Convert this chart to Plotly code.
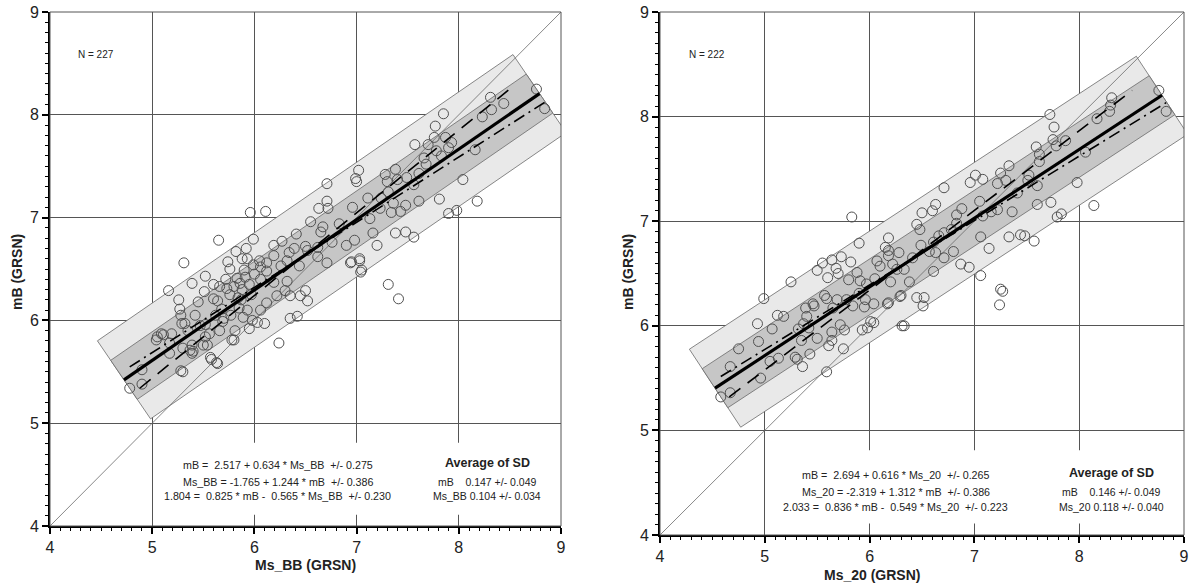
import numpy as np
import plotly.graph_objects as go

# ---------------- data ----------------
# Left panel: Ms_BB vs mB
ms_bb = [4.78, 4.90, 4.90, 5.04, 5.05, 5.09, 5.11, 5.16, 5.17, 5.17, 5.19, 5.26, 5.27, 5.28, 5.28, 5.29,
         5.30, 5.30, 5.31, 5.32, 5.37, 5.39, 5.39, 5.40, 5.39, 5.50, 5.52, 5.51, 5.52, 5.52, 5.54, 5.56,
         5.57, 5.58, 5.60, 5.62, 5.63, 5.64, 5.64, 5.65, 5.66, 5.68, 5.69, 5.70, 5.73, 5.74, 5.76, 5.77,
         5.78, 5.80, 5.81, 5.82, 5.83, 5.86, 5.88, 5.90, 5.92, 5.88, 5.85, 5.87, 5.93, 5.93, 5.96, 5.97,
         5.99, 5.99, 6.03, 6.05, 6.06, 6.10, 6.11, 6.12, 6.12, 5.76, 5.80, 5.84, 5.95, 5.91, 6.00, 5.72,
         5.66, 5.60, 5.45, 5.42, 5.47, 5.35,
         6.19, 6.27, 6.41, 6.55, 6.67, 6.83, 6.96, 6.65, 6.76, 6.90, 6.98, 6.94, 7.03, 7.04, 6.62, 6.52,
         6.39, 6.34, 6.19, 6.06, 6.71, 6.62, 6.50, 6.44, 6.32, 6.26, 6.12, 6.19, 6.32, 6.30, 6.50, 6.45,
         6.52, 6.35, 6.22, 6.06, 5.89, 5.98, 6.35, 6.42, 5.95, 6.24, 6.71, 6.71, 6.63, 6.72, 7.02, 6.99,
         8.76, 8.31, 8.44, 8.32, 8.84, 8.23, 7.85, 7.77, 7.76, 7.87, 7.93, 7.70, 7.78, 7.57, 7.90, 7.83,
         8.16, 7.66, 7.68, 7.00, 7.28, 7.38, 7.30, 7.40, 7.49, 7.61, 7.56, 7.31, 7.24, 7.11, 7.23, 7.36,
         7.48, 7.43, 7.34, 7.13, 7.61, 7.81, 8.04, 8.18, 7.90, 7.98, 7.16, 7.38, 7.48, 7.56, 7.20, 7.03,
         6.95, 7.05, 7.31, 7.41]
mb_bb = [5.34, 5.38, 5.52, 5.81, 5.84, 5.87, 5.86, 6.29, 5.78, 5.68, 5.87, 6.20, 6.11, 6.05, 5.51, 5.97,
         5.73, 5.50, 6.56, 5.97, 5.71, 5.76, 5.68, 5.70, 6.36, 5.76, 6.43, 6.28, 5.96, 5.84, 5.76, 5.87,
         5.64, 5.62, 6.21, 6.05, 5.59, 6.19, 5.58, 6.78, 5.90, 6.11, 5.99, 6.02, 6.31, 6.57, 6.50, 6.05,
         5.81, 5.81, 5.90, 6.67, 6.41, 6.36, 6.60, 6.49, 6.70, 6.30, 6.12, 6.20, 6.10, 6.60, 7.05, 6.25,
         6.79, 6.54, 5.98, 6.58, 6.40, 5.97, 7.06, 6.56, 6.17, 6.25, 6.33, 6.22, 6.35, 6.42, 6.45, 6.40,
         6.33, 6.35, 6.18, 6.05, 5.95, 5.90,
         6.73, 6.77, 6.84, 6.96, 6.91, 6.94, 7.10, 6.86, 6.76, 6.73, 6.78, 6.56, 6.58, 6.47, 6.71, 6.68,
         6.70, 6.66, 6.63, 6.52, 6.56, 6.62, 6.72, 6.53, 6.58, 6.53, 6.48, 6.37, 6.38, 6.29, 6.29, 6.24,
         6.19, 6.24, 6.24, 6.10, 6.03, 6.00, 6.02, 6.04, 5.92, 5.78, 7.33, 7.16, 7.09, 7.09, 7.46, 7.38,
         8.25, 8.17, 8.11, 8.05, 8.06, 7.98, 8.01, 7.89, 7.78, 7.78, 7.73, 7.71, 7.65, 7.71, 7.68, 7.60,
         7.66, 7.58, 7.52, 7.35, 7.42, 7.47, 7.35, 7.37, 7.39, 7.43, 7.32, 7.25, 7.19, 7.19, 7.09, 7.14,
         7.12, 7.06, 7.05, 6.99, 7.16, 7.18, 7.37, 7.16, 7.04, 7.07, 6.85, 6.85, 6.86, 6.81, 6.73, 6.60,
         6.57, 6.49, 6.35, 6.21]

# Right panel: Ms_20 vs mB
ms_20 = [4.58, 4.67, 4.67, 4.75, 4.93, 4.94, 4.96, 4.99, 5.05, 5.07, 5.12, 5.13, 5.18, 5.25, 5.29, 5.31,
         5.32, 5.36, 5.39, 5.47, 5.40, 5.50, 5.50, 5.42, 5.59, 5.59, 5.64, 5.64, 5.69, 5.65, 5.70, 5.72,
         5.73, 5.75, 5.76, 5.78, 5.82, 5.83, 5.84, 5.88, 5.90, 5.80, 5.91, 5.96, 5.93, 5.98, 5.97, 5.55,
         5.60, 5.68, 5.35, 5.43, 5.61, 5.64, 5.46, 5.57, 6.04, 6.33, 6.51, 6.45, 6.29, 6.18, 5.37,
         7.01, 6.96, 7.08, 6.71, 6.63, 6.60, 6.50, 6.83, 6.88, 7.05, 6.18, 6.45, 6.48, 6.66, 6.71, 6.61,
         6.78, 6.83, 6.57, 6.63, 6.71, 6.80, 6.15, 6.18, 6.18, 6.28, 6.07, 6.10, 6.22, 6.26, 6.33, 6.41,
         6.49, 6.61, 6.87, 6.95, 7.06, 6.52, 6.30, 6.31, 6.01, 5.95, 6.04, 6.17, 5.90, 6.38, 6.20, 6.05,
         8.76, 8.31, 8.30, 8.29, 8.83, 8.17, 7.72, 7.76, 7.75, 7.87, 7.59, 7.62, 7.78, 7.62, 8.06, 7.33,
         7.25, 7.52, 7.51, 7.22, 7.30, 7.60, 7.41, 7.16, 7.22, 7.36, 7.08, 7.60, 7.73, 7.98, 8.14, 7.79,
         7.83, 7.06, 7.33, 7.44, 7.48, 7.57, 7.14, 7.25, 7.24, 7.27]
mb_20 = [5.32, 5.36, 5.61, 5.78, 6.02, 5.85, 5.50, 6.26, 5.66, 5.97, 6.10, 5.69, 6.09, 6.42, 5.70, 5.68,
         5.97, 5.61, 6.17, 6.19, 6.09, 5.88, 6.53, 5.98, 6.26, 5.56, 6.63, 5.94, 6.25, 6.17, 6.50, 6.01,
         6.66, 5.78, 5.96, 6.25, 6.61, 7.04, 6.19, 6.51, 6.79, 6.44, 6.43, 6.25, 5.96, 5.98, 6.40, 6.60,
         6.46, 6.55, 5.86, 5.73, 5.81, 5.86, 6.21, 6.29, 6.03, 6.00, 6.19, 6.27, 6.28, 6.22, 6.02,
         7.44, 7.37, 7.40, 7.32, 7.16, 7.10, 7.08, 7.06, 7.12, 7.19, 6.84, 6.97, 6.92, 6.86, 6.89, 6.80,
         6.92, 6.98, 6.71, 6.70, 6.65, 6.71, 6.75, 6.72, 6.67, 6.70, 6.62, 6.57, 6.59, 6.54, 6.54, 6.65,
         6.77, 6.52, 6.59, 6.56, 6.48, 6.27, 6.29, 6.00, 6.04, 6.18, 6.21, 6.21, 6.31, 6.42, 6.42, 6.45,
         8.25, 8.18, 8.11, 8.05, 8.05, 7.98, 8.02, 7.90, 7.78, 7.77, 7.71, 7.64, 7.72, 7.57, 7.66, 7.53,
         7.46, 7.44, 7.39, 7.36, 7.39, 7.34, 7.27, 7.09, 7.11, 7.09, 7.05, 7.16, 7.18, 7.37, 7.15, 7.04,
         7.07, 6.85, 6.85, 6.87, 6.86, 6.81, 6.74, 6.35, 6.20, 6.33]

# regression results: (intercept, slope, sd) for mB on Ms; Ms on mB; orthogonal (C, A, B, sd)
left_fit = dict(name="Ms_BB", n=227, ols=(2.517, 0.634, 0.275), inv=(-1.765, 1.244, 0.386),
                orth=(1.804, 0.825, 0.565, 0.230), sd_mb=(0.147, 0.049), sd_ms=(0.104, 0.034))
right_fit = dict(name="Ms_20", n=222, ols=(2.694, 0.616, 0.265), inv=(-2.319, 1.312, 0.386),
                 orth=(2.033, 0.836, 0.549, 0.223), sd_mb=(0.146, 0.049), sd_ms=(0.118, 0.040))

axis_range = [4, 9]
tick_vals = [4, 5, 6, 7, 8, 9]

FONT = "Liberation Sans, Arial, sans-serif"

fig = go.Figure()

panels = [
    dict(xs=ms_bb, ys=mb_bb, fit=left_fit, xa="x", ya="y",
         dom_x=[50 / 1192, 561 / 1192], dom_y=[1 - 526 / 585, 1 - 12 / 585],
         eq_x=6.23, eq_y=[4.59, 4.43, 4.29], av_x=8.28, av_y=[4.61, 4.43, 4.29],
         xtitle_pos=(305 / 1192, 1 - 565 / 585), ytitle_pos=(17 / 1192, 1 - 272 / 585)),
    dict(xs=ms_20, ys=mb_20, fit=right_fit, xa="x2", ya="y2",
         dom_x=[660 / 1192, 1184 / 1192], dom_y=[1 - 535 / 585, 1 - 12 / 585],
         eq_x=6.25, eq_y=[4.57, 4.41, 4.27], av_x=8.31, av_y=[4.59, 4.41, 4.27],
         xtitle_pos=(872 / 1192, 1 - 575 / 585), ytitle_pos=(628 / 1192, 1 - 272 / 585)),
]

shapes = []
annotations = []

for i, p in enumerate(panels):
    xs = np.array(p["xs"])
    ys = np.array(p["ys"])
    f = p["fit"]
    C, A, B, s = f["orth"]
    nrm = np.hypot(A, B)
    u = np.array([A, B]) / nrm          # along line (Ms, mB)
    nv = np.array([-B, A]) / nrm        # normal
    P0 = C / nrm * nv
    t = xs * u[0] + ys * u[1]
    tmin, tmax = t.min(), t.max()
    Pa = P0 + tmin * u
    Pb = P0 + tmax * u

    def rect(k):
        pts = [Pa + k * s * nv, Pb + k * s * nv, Pb - k * s * nv, Pa - k * s * nv, Pa + k * s * nv]
        return [q[0] for q in pts], [q[1] for q in pts]

    bx, by = rect(2)
    fig.add_trace(go.Scatter(x=bx, y=by, fill="toself", fillcolor="#e9e9e9", mode="lines",
                             line=dict(color="#6a6a6a", width=0.8), xaxis=p["xa"], yaxis=p["ya"],
                             hoverinfo="skip", showlegend=False))
    bx, by = rect(1)
    fig.add_trace(go.Scatter(x=bx, y=by, fill="toself", fillcolor="#c6c6c6", mode="lines",
                             line=dict(color="#6a6a6a", width=0.8), xaxis=p["xa"], yaxis=p["ya"],
                             hoverinfo="skip", showlegend=False))
    # 1:1 line
    fig.add_trace(go.Scatter(x=axis_range, y=axis_range, mode="lines",
                             line=dict(color="#6a6a6a", width=0.8), xaxis=p["xa"], yaxis=p["ya"],
                             hoverinfo="skip", showlegend=False))
    # points
    fig.add_trace(go.Scatter(x=xs, y=ys, mode="markers",
                             marker=dict(symbol="circle-open", size=10, color="#505050",
                                         line=dict(width=1, color="#505050")),
                             xaxis=p["xa"], yaxis=p["ya"], showlegend=False))
    # OLS mB on Ms (dash-dot)
    a0, a1, _ = f["ols"]
    lx = np.array([xs.min(), xs.max()])
    fig.add_trace(go.Scatter(x=lx, y=a0 + a1 * lx, mode="lines",
                             line=dict(color="black", width=1.6, dash="12px,5px,2px,5px"),
                             xaxis=p["xa"], yaxis=p["ya"], showlegend=False))
    # Ms on mB (dashed)
    b0, b1, _ = f["inv"]
    ly = np.array([ys.min(), ys.max()])
    fig.add_trace(go.Scatter(x=b0 + b1 * ly, y=ly, mode="lines",
                             line=dict(color="black", width=1.6, dash="14px,9px"),
                             xaxis=p["xa"], yaxis=p["ya"], showlegend=False))
    # orthogonal (thick solid)
    fig.add_trace(go.Scatter(x=[Pa[0], Pb[0]], y=[Pa[1], Pb[1]], mode="lines",
                             line=dict(color="black", width=3.2),
                             xaxis=p["xa"], yaxis=p["ya"], showlegend=False))

    axsuf = "" if i == 0 else "2"
    # white box behind text
    shapes.append(dict(type="rect", xref="x" + axsuf, yref="y" + axsuf, x0=5.06, x1=8.97, y0=4.11, y1=4.81,
                       fillcolor="white", line=dict(width=0), layer="above"))
    # top / right border
    shapes.append(dict(type="rect", xref="x" + axsuf + " domain", yref="y" + axsuf + " domain",
                       x0=0, x1=1, y0=0, y1=1, line=dict(color="#555", width=1), layer="above"))

    nm = f["name"]
    nb = "\u00a0"
    eq_lines = [
        f"mB = {nb}{f['ols'][0]:.3f} + {f['ols'][1]:.3f} * {nm}{nb}{nb}+/- {f['ols'][2]:.3f}",
        f"{nm} = {f['inv'][0]:.3f} + {f['inv'][1]:.3f} * mB{nb}{nb}+/- {f['inv'][2]:.3f}",
        f"{C:.3f} = {nb}{A:.3f} * mB - {nb}{B:.3f} * {nm}{nb}{nb}+/- {s:.3f}",
    ]
    for txt, yy in zip(eq_lines, p["eq_y"]):
        annotations.append(dict(x=p["eq_x"], y=yy, xref="x" + axsuf, yref="y" + axsuf, text=txt,
                                showarrow=False, font=dict(family=FONT, size=10.7, color="#222"),
                                xanchor="center", yanchor="middle"))
    av_lines = [
        ("<b>Average of SD</b>", 12.5),
        (f"mB{nb}{nb}{nb}{nb}{f['sd_mb'][0]:.3f} +/- {f['sd_mb'][1]:.3f}", 10.5),
        (f"{nm} {f['sd_ms'][0]:.3f} +/- {f['sd_ms'][1]:.3f}", 10.5),
    ]
    for (txt, sz), yy in zip(av_lines, p["av_y"]):
        annotations.append(dict(x=p["av_x"], y=yy, xref="x" + axsuf, yref="y" + axsuf, text=txt,
                                showarrow=False, font=dict(family=FONT, size=sz, color="#222"),
                                xanchor="center", yanchor="middle"))
    annotations.append(dict(x=4.45, y=8.59, xref="x" + axsuf, yref="y" + axsuf, text=f"N = {f['n']}",
                            showarrow=False, font=dict(family=FONT, size=10, color="#222"),
                            xanchor="center", yanchor="middle"))
    annotations.append(dict(x=p["xtitle_pos"][0], y=p["xtitle_pos"][1], xref="paper", yref="paper",
                            text=f"<b>{nm} (GRSN)</b>", showarrow=False,
                            font=dict(family=FONT, size=14, color="#222"), xanchor="center", yanchor="middle"))
    annotations.append(dict(x=p["ytitle_pos"][0], y=p["ytitle_pos"][1], xref="paper", yref="paper",
                            text="<b>mB (GRSN)</b>", showarrow=False, textangle=-90,
                            font=dict(family=FONT, size=14, color="#222"), xanchor="center", yanchor="middle"))

    common = dict(range=axis_range, tickvals=tick_vals, showgrid=True, gridcolor="#555", gridwidth=1,
                  zeroline=False, showline=True, linecolor="black", linewidth=2,
                  ticks="outside", ticklen=6, tickwidth=1.5, tickcolor="black",
                  tickfont=dict(family=FONT, size=16, color="#222"),
                  minor=dict(dtick=0.1, ticks="outside", ticklen=3, tickwidth=1, tickcolor="black",
                             showgrid=False),
                  automargin=False, fixedrange=True)
    fig.update_layout(**{
        "xaxis" + axsuf: dict(domain=p["dom_x"], anchor="y" + axsuf, **common),
        "yaxis" + axsuf: dict(domain=p["dom_y"], anchor="x" + axsuf, **common),
    })

fig.update_layout(width=1192, height=585, margin=dict(l=0, r=0, t=0, b=0),
                  paper_bgcolor="white", plot_bgcolor="white", showlegend=False,
                  shapes=shapes, annotations=annotations)

fig.write_html("out.html", config={"displayModeBar": False},
               post_script="document.body.style.margin='0px';document.body.style.overflow='hidden';")
